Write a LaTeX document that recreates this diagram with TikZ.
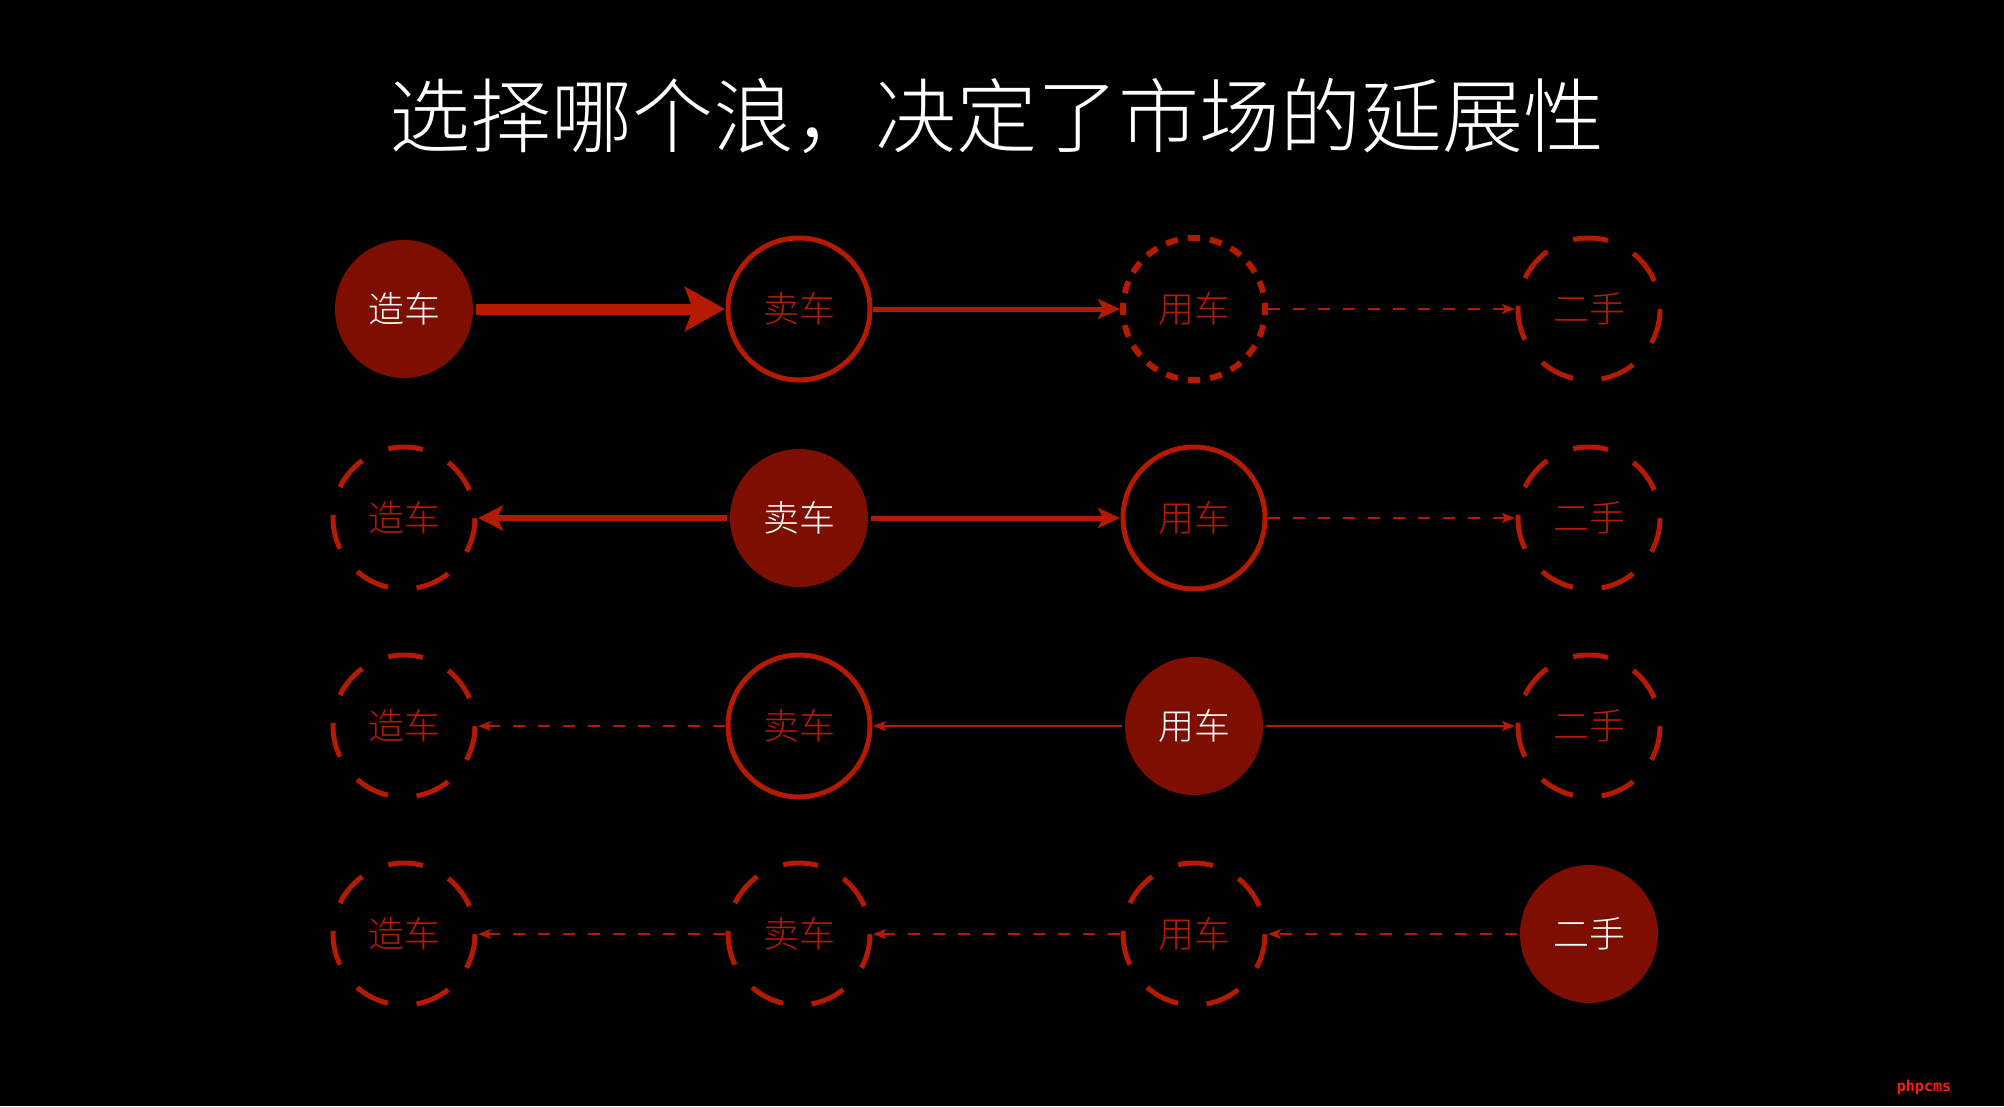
\documentclass[tikz,border=0pt]{standalone}
\usepackage{fontspec}
\setmainfont{Noto Sans CJK SC}[UprightFont={* Light}]
\newfontfamily\wmfont{DejaVu Sans Mono}
\usetikzlibrary{arrows.meta}
\definecolor{darkred}{HTML}{7E0F00}
\definecolor{linered}{HTML}{B41A00}
\definecolor{wmred}{HTML}{FF1A10}
\begin{document}
\begin{tikzpicture}[x=1pt,y=-1pt,
  base/.style={circle, minimum size=142pt, inner sep=0pt, outer sep=3pt,
    font=\fontsize{36}{40}\selectfont},
  filled/.style={base, fill=darkred, text=white, minimum size=138pt},
  solidring/.style={base, draw=linered, line width=5pt, text=linered},
  shortdash/.style={base, draw=linered, line width=6pt, text=linered,
    dash pattern=on 12.3pt off 10pt, dash phase=6pt},
  longdash/.style={base, draw=linered, line width=5pt, text=linered,
    dash pattern=on 35pt off 28.7pt, dash phase=35pt},
  bigarrow/.style={draw=linered, line width=11pt,
    -{Stealth[length=40pt,width=44pt,inset=8pt]}},
  medarrow/.style={draw=linered, line width=5pt,
    -{Stealth[length=22pt,width=20pt,inset=5pt]}},
  medarrowb/.style={draw=linered, line width=6pt,
    -{Stealth[length=25pt,width=25pt,inset=6pt]}},
  thinarrow/.style={draw=linered, line width=2.5pt,
    -{Stealth[length=13pt,width=10pt,inset=3pt]}},
  thindash/.style={thinarrow, dash pattern=on 12pt off 13pt},
]
\useasboundingbox[fill=black] (0,0) rectangle (2004,1106);

\node[text=white, font=\fontsize{81}{90}\selectfont] (title) at (997,116) {选择哪个浪，决定了市场的延展性};

% row 1
\node[filled]    (a1) at (404,309) {造车};
\node[solidring] (b1) at (799,309) {卖车};
\node[shortdash] (c1) at (1194,309) {用车};
\node[longdash]  (d1) at (1589,309) {二手};
% row 2
\node[longdash]  (a2) at (404,518) {造车};
\node[filled]    (b2) at (799,518) {卖车};
\node[solidring] (c2) at (1194,518) {用车};
\node[longdash]  (d2) at (1589,518) {二手};
% row 3
\node[longdash]  (a3) at (404,726) {造车};
\node[solidring] (b3) at (799,726) {卖车};
\node[filled]    (c3) at (1194,726) {用车};
\node[longdash]  (d3) at (1589,726) {二手};
% row 4
\node[longdash]  (a4) at (404,934) {造车};
\node[longdash]  (b4) at (799,934) {卖车};
\node[longdash]  (c4) at (1194,934) {用车};
\node[filled]    (d4) at (1589,934) {二手};

\draw[bigarrow] (a1) -- (b1);
\draw[medarrow] (b1) -- (c1);
\draw[thindash] (c1) -- (d1);

\draw[medarrowb] (b2) -- (a2);
\draw[medarrow] (b2) -- (c2);
\draw[thindash] (c2) -- (d2);

\draw[thindash] (b3) -- (a3);
\draw[thinarrow] (c3) -- (b3);
\draw[thinarrow] (c3) -- (d3);

\draw[thindash] (b4) -- (a4);
\draw[thindash] (c4) -- (b4);
\draw[thindash] (d4) -- (c4);

\node[text=wmred, font=\wmfont\bfseries\fontsize{15}{16}\selectfont] (wm) at (1924,1087) {phpcms};
\end{tikzpicture}
\end{document}
